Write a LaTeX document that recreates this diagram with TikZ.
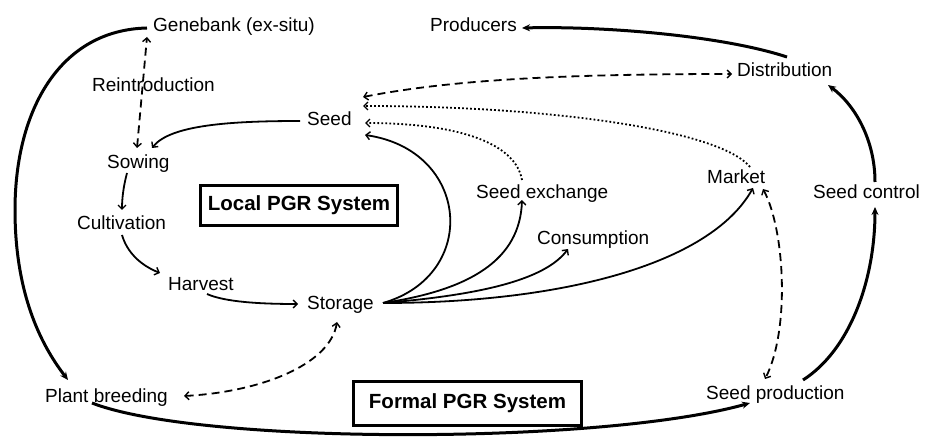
\documentclass[tikz,border=0pt]{standalone}
\usepackage{fontspec}
\setmainfont{Liberation Sans}
\usetikzlibrary{arrows.meta}
\tikzset{
  bb/.tip={Straight Barb[length=4bp,width=8bp,line width=1.4bp]},
  st/.tip={Stealth[length=8bp,width=7bp]},
  lbl/.style={anchor=base west,inner sep=0pt,font=\fontsize{19bp}{22bp}\selectfont},
  sysbox/.style={draw,line width=3bp,inner sep=0pt,font=\fontsize{20.5bp}{24bp}\selectfont\bfseries},
  conn/.style={line width=1.8bp},
  heavy/.style={line width=3bp},
  dashln/.style={line width=1.8bp,dash pattern=on 8bp off 5bp},
  dotln/.style={line width=1.8bp,dash pattern=on 1.8bp off 2.2bp}
}
\begin{document}
\begin{tikzpicture}[x=1bp,y=-1bp]
\useasboundingbox (0,0) rectangle (936,438);
% labels
\node[lbl] (gene) at (153,32) {Genebank (ex-situ)};
\node[lbl] (reint) at (92,92) {Reintroduction};
\node[lbl] (sow) at (107,169) {Sowing};
\node[lbl] (cult) at (77,230) {Cultivation};
\node[lbl] (harv) at (168,291) {Harvest};
\node[lbl] (stor) at (307,310) {Storage};
\node[lbl] (plant) at (45,402) {Plant breeding};
\node[lbl] (seed) at (307,126) {Seed};
\node[lbl] (prod) at (430,32) {Producers};
\node[lbl] (dist) at (737,77) {Distribution};
\node[lbl] (sx) at (476,199) {Seed exchange};
\node[lbl] (mkt) at (707,184) {Market};
\node[lbl] (cons) at (537,245) {Consumption};
\node[lbl] (sctrl) at (813,199) {Seed control};
\node[lbl] (sprod) at (706,399) {Seed production};
\node[sysbox,minimum width=197bp,minimum height=40bp] (local) at (299,205.6) {Local PGR System};
\node[sysbox,minimum width=228bp,minimum height=44bp] (formal) at (467.5,403.5) {Formal PGR System};
% thick formal loop
\draw[heavy,-st] ([shift={(-6,-4)}]gene.base west) .. controls (60,30) and (15,110) .. (15,210)
   .. controls (15,300) and (45,350) .. ([shift={(23,-22)}]plant.base west);
\draw[heavy,-st] ([shift={(47,1)}]plant.base west) .. controls (200,445) and (600,445) .. ([shift={(44,4)}]sprod.base west);
\draw[heavy,-st] ([shift={(97,-19)}]sprod.base west) .. controls (850,350) and (875,280) .. ([shift={(62,8)}]sctrl.base west);
\draw[heavy,-st] ([shift={(62,-17)}]sctrl.base west) .. controls (875,140) and (855,105) .. ([shift={(91,8)}]dist.base west);
\draw[heavy,-st] ([shift={(50,-20)}]dist.base west) .. controls (720,35) and (600,26) .. ([shift={(92,-4)}]prod.base west);
% dashed
\draw[dashln,bb-bb] ([shift={(30,-21)}]sow.base west) -- ([shift={(-6,5)}]gene.base west);
\draw[dashln,bb-bb] ([shift={(56,-29)}]seed.base west) .. controls (450,80) and (560,74) .. ([shift={(-5,-3)}]dist.base west);
\draw[dashln,bb-bb] ([shift={(139,-6)}]plant.base west) .. controls (260,392) and (330,365) .. ([shift={(30,12)}]stor.base west);
\draw[dashln,bb-bb] ([shift={(56,5)}]mkt.base west) .. controls (785,230) and (790,330) .. ([shift={(59,-20)}]sprod.base west);
% dotted
\draw[dotln,-bb] ([shift={(43,-17)}]mkt.base west) .. controls (720,130) and (550,106) .. ([shift={(56,-20)}]seed.base west);
\draw[dotln,-bb] ([shift={(46,-19)}]sx.base west) .. controls (515,140) and (450,123) .. ([shift={(58,-3)}]seed.base west);
% local cycle
\draw[conn,-bb] ([shift={(-7,-5)}]seed.base west) .. controls (230,121) and (170,125) .. ([shift={(45,-21)}]sow.base west);
\draw[conn,-bb] ([shift={(20,4)}]sow.base west) .. controls (123,188) and (122,200) .. ([shift={(45,-20)}]cult.base west);
\draw[conn,-bb] ([shift={(45,5)}]cult.base west) .. controls (127,252) and (140,265) .. ([shift={(-8,-18)}]harv.base west);
\draw[conn,-bb] ([shift={(39,3)}]harv.base west) .. controls (225,302) and (260,304) .. ([shift={(-9,-6)}]stor.base west);
% storage fan
\draw[conn,-bb] ([shift={(76,-7)}]stor.base west) .. controls (480,275) and (470,150) .. ([shift={(58,9)}]seed.base west);
\draw[conn,-bb] ([shift={(76,-7)}]stor.base west) .. controls (470,290) and (520,260) .. ([shift={(46,1)}]sx.base west);
\draw[conn,-bb] ([shift={(76,-7)}]stor.base west) .. controls (480,295) and (545,280) .. ([shift={(31,4)}]cons.base west);
\draw[conn,-bb] ([shift={(76,-7)}]stor.base west) .. controls (560,303) and (710,265) .. ([shift={(46,4)}]mkt.base west);
\end{tikzpicture}
\end{document}
